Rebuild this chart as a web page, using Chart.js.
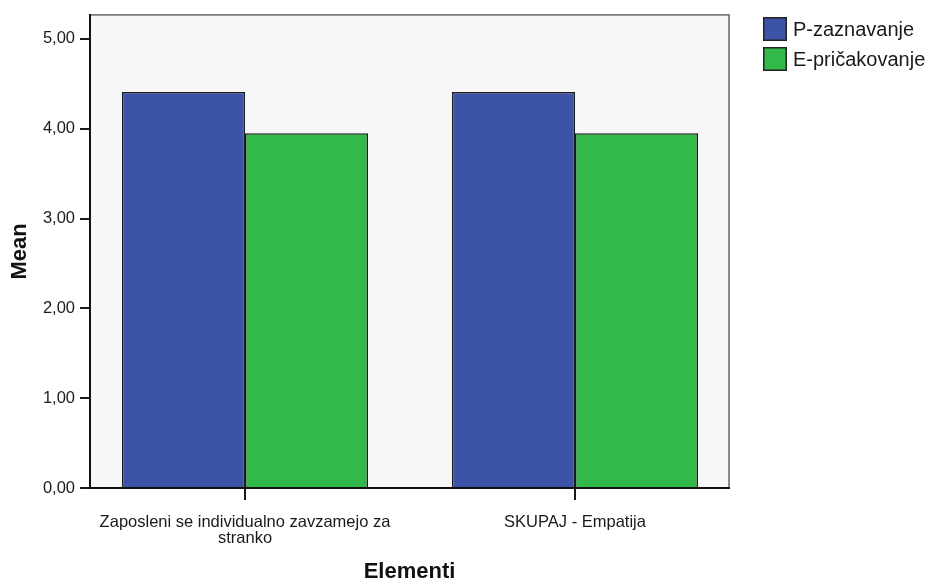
<!DOCTYPE html>
<html>
<head>
<meta charset="utf-8">
<title>Elementi – Mean</title>
<script src="https://cdn.jsdelivr.net/npm/chart.js@4/dist/chart.umd.min.js"></script>
<style>
  html, body { margin: 0; padding: 0; background: #ffffff; }
  #wrap { width: 932px; height: 580px; position: relative; }
</style>
</head>
<body>
<div id="wrap"><canvas id="c" width="932" height="580"></canvas></div>
<script>
// Categories on the x axis (multi-line labels as arrays)
const categories = [
  ['Zaposleni se individualno zavzamejo za', 'stranko'],
  ['SKUPAJ - Empatija']
];
// Series labels
const seriesNames = ['P-zaznavanje', 'E-pričakovanje'];
// Mean values per category
const pValues = [4.41, 4.41];
const eValues = [3.95, 3.95];
// Y tick values
const yTicks = [0, 1, 2, 3, 4, 5];

const FONT = "'Liberation Sans', Arial, sans-serif";
const colors = ['#3D53A8', '#31B94A'];

// Light grey panel with a frame behind the bars
const panelPlugin = {
  id: 'panel',
  beforeDraw(chart) {
    const { ctx, chartArea: a } = chart;
    ctx.save();
    ctx.fillStyle = '#F7F7F7';
    ctx.fillRect(a.left, a.top, a.right - a.left, a.bottom - a.top);
    ctx.strokeStyle = '#666666';
    ctx.lineWidth = 1.5;
    ctx.strokeRect(a.left, a.top, a.right - a.left, a.bottom - a.top);
    ctx.restore();
  }
};

// Legend at the upper right, boxes + labels
const sideLegend = {
  id: 'sideLegend',
  afterDraw(chart) {
    const { ctx } = chart;
    ctx.save();
    ctx.font = '20px ' + FONT;
    ctx.textBaseline = 'middle';
    chart.data.datasets.forEach((ds, i) => {
      const x = 763, y = 17 + i * 30, s = 24;
      ctx.fillStyle = ds.backgroundColor;
      ctx.fillRect(x, y, s, s);
      ctx.strokeStyle = '#222222';
      ctx.lineWidth = 1.5;
      ctx.strokeRect(x + 0.75, y + 0.75, s - 1.5, s - 1.5);
      ctx.fillStyle = '#1a1a1a';
      ctx.fillText(ds.label, x + s + 6, y + s / 2 + 1);
    });
    ctx.restore();
  }
};

const xIdx = categories.map((_, i) => i);

new Chart(document.getElementById('c'), {
  type: 'bar',
  data: {
    datasets: [
      {
        label: seriesNames[0],
        data: pValues.map((v, i) => ({ x: xIdx[i], y: v })),
        backgroundColor: colors[0],
        borderColor: '#1a1a1a',
        borderWidth: 1.5
      },
      {
        label: seriesNames[1],
        data: eValues.map((v, i) => ({ x: xIdx[i], y: v })),
        backgroundColor: colors[1],
        borderColor: '#1a1a1a',
        borderWidth: 1.5
      }
    ]
  },
  options: {
    responsive: false,
    animation: false,
    events: [],
    layout: { padding: { left: 0, top: 14, right: 203, bottom: 0 } },
    categoryPercentage: 0.7455,
    barPercentage: 1.0,
    plugins: {
      legend: { display: false },
      tooltip: { enabled: false }
    },
    scales: {
      x: {
        type: 'linear',
        offset: false,
        min: -0.4697,
        max: 1.4667,
        afterBuildTicks(scale) { scale.ticks = xIdx.map(v => ({ value: v })); },
        afterFit(scale) { scale.height = 92; },
        ticks: {
          autoSkip: false,
          maxRotation: 0,
          padding: 15,
          color: '#1a1a1a',
          font: { family: FONT, size: 16.5, lineHeight: 0.95 },
          callback: (v) => categories[v]
        },
        grid: {
          offset: false,
          drawOnChartArea: false,
          drawTicks: true,
          tickLength: 12,
          color: '#1a1a1a',
          lineWidth: 2
        },
        border: { display: true, color: '#111111', width: 2 },
        title: {
          display: true,
          text: 'Elementi',
          color: '#111111',
          font: { family: FONT, size: 22, weight: 'bold', lineHeight: 0.75 },
          padding: { top: 0, bottom: 0 }
        }
      },
      y: {
        min: 0,
        max: 5.267,
        afterBuildTicks(scale) { scale.ticks = yTicks.map(v => ({ value: v })); },
        afterFit(scale) { scale.width = 90; },
        ticks: {
          padding: 5,
          color: '#1a1a1a',
          font: { family: FONT, size: 16.5 },
          callback: (v) => Number(v).toFixed(2).replace('.', ',')
        },
        grid: {
          drawOnChartArea: false,
          drawTicks: true,
          tickLength: 10,
          color: '#1a1a1a',
          lineWidth: 2
        },
        border: { display: true, color: '#111111', width: 2 },
        title: {
          display: true,
          text: 'Mean',
          color: '#111111',
          font: { family: FONT, size: 22, weight: 'bold', lineHeight: 1 },
          padding: { top: 9, bottom: 0 }
        }
      }
    }
  },
  plugins: [panelPlugin, sideLegend]
});
</script>
</body>
</html>
